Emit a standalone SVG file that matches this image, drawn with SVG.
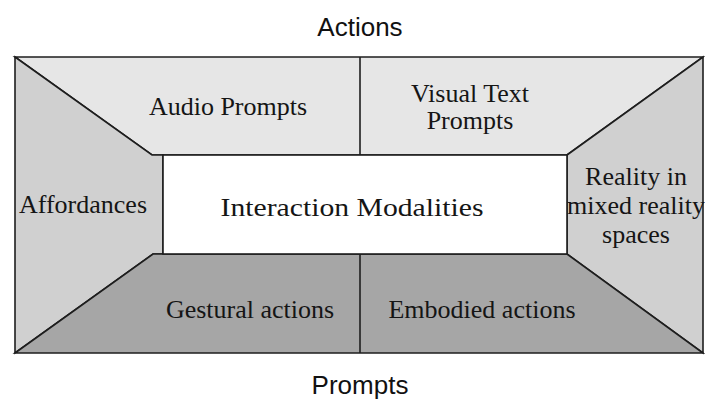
<svg xmlns="http://www.w3.org/2000/svg" width="705" height="400" viewBox="0 0 705 400">
<style>
.edge{stroke:#1e1e1e;stroke-width:1.6;stroke-linejoin:miter}
.lbl{font-family:"Liberation Serif","Times New Roman",serif;font-size:26px;fill:#151515;text-anchor:middle}
.axis{font-family:"Liberation Sans",Arial,sans-serif;font-size:26px;fill:#111;text-anchor:middle}
</style>
<rect width="705" height="400" fill="#ffffff"/>
<g id="top-panel">
<polygon class="edge" points="15,57 703,57 567,155 152,155" fill="#e6e6e6"/>
</g>
<g id="left-panel">
<polygon class="edge" points="15,57 152,155 163,155 163,254 153,254 15,353" fill="#d0d0d0"/>
</g>
<g id="right-panel">
<polygon class="edge" points="703,57 703,353 567,254 567,155" fill="#d0d0d0"/>
</g>
<g id="bottom-panel">
<polygon class="edge" points="15,353 153,254 567,254 703,353" fill="#a6a6a6"/>
</g>
<g id="center">
<rect class="edge" x="163" y="155" width="404" height="99" fill="#ffffff"/>
<text class="lbl" x="352" y="216" font-size="29.5" textLength="263" lengthAdjust="spacingAndGlyphs">Interaction Modalities</text>
</g>
<g id="connectors">
<line class="edge" x1="360" y1="57" x2="360" y2="155"/>
<line class="edge" x1="360" y1="254" x2="360" y2="353"/>
</g>
<g id="audio-prompts"><text class="lbl" x="228" y="115">Audio Prompts</text></g>
<g id="visual-text-prompts"><text class="lbl" x="470" y="102">Visual Text</text><text class="lbl" x="470" y="129">Prompts</text></g>
<g id="affordances"><text class="lbl" x="83" y="213">Affordances</text></g>
<g id="reality"><text class="lbl" x="636" y="185">Reality in</text><text class="lbl" x="636" y="214">mixed reality</text><text class="lbl" x="636" y="243">spaces</text></g>
<g id="gestural-actions"><text class="lbl" x="250" y="318">Gestural actions</text></g>
<g id="embodied-actions"><text class="lbl" x="482" y="318">Embodied actions</text></g>
<g id="axis-labels">
<text class="axis" x="360" y="36">Actions</text>
<text class="axis" x="360" y="394">Prompts</text>
</g>
</svg>
